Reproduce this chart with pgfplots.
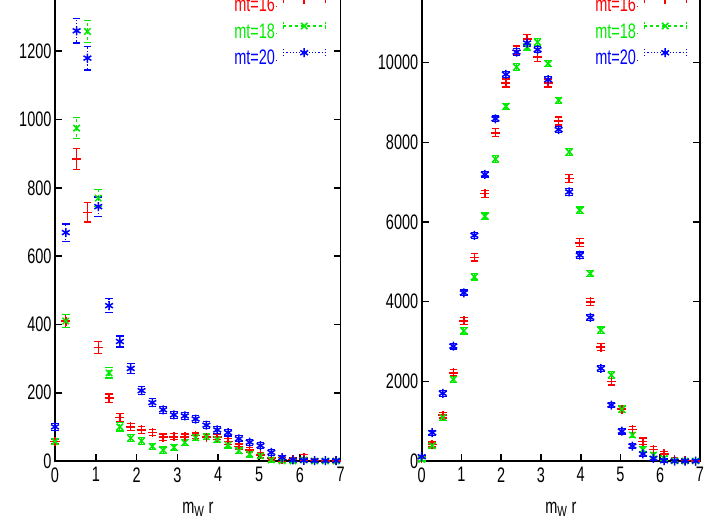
\documentclass[border=0pt]{standalone}
\usepackage{pgfplots}
\pgfplotsset{compat=1.18}
\usepackage{pgfplotstable}
\usepackage{fontspec}
\setmainfont{Liberation Sans}[FakeStretch=0.69]
\definecolor{gpred}{RGB}{255,0,0}
\definecolor{gpgreen}{RGB}{0,235,0}
\definecolor{gpblue}{RGB}{0,0,255}

% left panel
\pgfplotstableread{
x y e
0 57 5
0.265 410 20
0.53 885 31
0.795 728 28
1.06 332 18
1.325 184 12
1.59 128 12
1.855 100 10
2.12 91 10
2.385 84 9
2.65 70 9
2.915 71 9
3.18 71 8
3.445 74 8
3.71 70 8
3.975 70 8
4.24 57 8
4.505 42 8
4.77 32 7
5.035 18 8
5.3 9 6
5.565 4 6
5.83 4 6
6.095 10 8
6.36 2 5
6.625 0 3
6.89 0 3
}\LR
\pgfplotstableread{
x y e
0 57 8
0.265 410 20
0.53 975 31
0.795 1258 33
1.06 770 25
1.325 258 15
1.59 100 12
1.855 67 10
2.12 59 10
2.385 43 9
2.65 32 9
2.915 40 9
3.18 54 9
3.445 68 9
3.71 71 9
3.975 63 9
4.24 47 9
4.505 30 8
4.77 20 8
5.035 15 8
5.3 3 6
5.565 0 5
5.83 0 5
6.095 3 5
6.36 0 3
6.625 0 3
6.89 0 3
}\LG
\pgfplotstableread{
x y e
0 100 10
0.265 669 25
0.53 1260 36
0.795 1180 35
1.06 745 28
1.325 455 20
1.59 350 16
1.855 271 14
2.12 206 12
2.385 171 11
2.65 150 10
2.915 135 10
3.18 132 10
3.445 123 10
3.71 105 10
3.975 91 10
4.24 83 10
4.505 65 9
4.77 55 9
5.035 45 9
5.3 25 8
5.565 10 6
5.83 3 5
6.095 2 4
6.36 1 3
6.625 1 3
6.89 1 3
}\LB
% right panel
\pgfplotstableread{
x y e
0 60 40
0.265 415 60
0.53 1150 70
0.795 2215 80
1.06 3520 90
1.325 5110 90
1.59 6710 90
1.855 8240 100
2.12 9490 100
2.385 10310 110
2.65 10600 110
2.915 10140 110
3.18 9490 100
3.445 8535 100
3.71 7090 100
3.975 5476 100
4.24 3996 90
4.505 2860 90
4.77 1990 80
5.035 1300 80
5.3 790 80
5.565 495 80
5.83 293 70
6.095 176 70
6.36 42 50
6.625 10 30
6.89 0 20
}\RR
\pgfplotstableread{
x y e
0 40 40
0.265 385 60
0.53 1096 70
0.795 2049 80
1.06 3268 80
1.325 4623 80
1.59 6145 80
1.855 7580 80
2.12 8904 80
2.385 9890 80
2.65 10392 90
2.915 10517 90
3.18 9975 80
3.445 9054 80
3.71 7758 80
3.975 6295 80
4.24 4708 80
4.505 3286 80
4.77 2157 80
5.035 1300 80
5.3 652 70
5.565 285 70
5.83 150 60
6.095 67 50
6.36 5 30
6.625 0 20
6.89 0 20
}\RG
\pgfplotstableread{
x y e
0 108 40
0.265 710 60
0.53 1698 70
0.795 2884 70
1.06 4221 70
1.325 5665 70
1.59 7198 70
1.855 8590 70
2.12 9707 70
2.385 10266 80
2.65 10492 80
2.915 10326 80
3.18 9573 80
3.445 8320 80
3.71 6755 80
3.975 5167 80
4.24 3604 80
4.505 2325 70
4.77 1405 70
5.035 748 70
5.3 376 60
5.565 176 60
5.83 67 50
6.095 8 40
6.36 0 30
6.625 0 20
6.89 0 20
}\RB

\pgfplotsset{
  gpaxis/.style={
    scale only axis, enlargelimits=false,
    xmin=0, xmax=7, ymin=0, xtick={0,...,7},
    axis line style={line width=1.6bp},
    tick style={line width=1.6bp, black},
    major tick length=7bp, tick align=inside,
    clip=false, scaled y ticks=false,
    font=\fontsize{21bp}{25bp}\selectfont,
    xticklabel style={yshift=-3bp},
    /pgf/number format/assume math mode=true,
    /pgf/number format/1000 sep={},
    every axis x label/.style={at={(axis description cs:0.5,0)}, anchor=base, yshift=-52bp},
    xlabel={m\textsubscript{W} r},
    legend cell align=right,
    legend plot pos=right,
    legend style={draw=none, fill=none, inner sep=0pt, row sep=5bp,
      nodes={inner sep=1bp, text height=14.5bp, text depth=4bp},
      at={(#1,0.975)}, anchor=north east},
  },
  gpleg/.style n args={3}{legend image code/.code={
    \path (0bp,0bp) -- (1bp,0bp);
    \draw[#1, line width=1.2bp, #3] (7bp,7bp) -- (49bp,7bp)
       (7bp,3.5bp) -- (7bp,10.5bp) (49bp,3.5bp) -- (49bp,10.5bp);
    \begin{scope}[shift={(28bp,7bp)}, #1, line width=1.5bp, solid]
      \pgfsetplotmarksize{4.5bp}\pgfuseplotmark{#2}
    \end{scope}
  }},
  gpser/.style n args={3}{only marks, color=#1, mark=#2, mark size=4.5bp,
    mark options={solid, line width=1.5bp, #1},
    gpleg={#1}{#2}{#3},
    error bars/.cd, y dir=both, y explicit,
    error bar style={line width=1.2bp, #1, #3},
    error mark options={rotate=90, mark size=3.8bp, line width=1.2bp, #1, solid}},
}

\begin{document}
\begin{tikzpicture}
\begin{axis}[gpaxis=0.9486, at={(55bp,59bp)}, anchor=south west,
  width=285.7bp, height=478bp, ymax=1400, ytick={0,200,...,1200}]
\addplot[gpser={gpred}{+}{solid}] table[x=x, y=y, y error=e] {\LR};
\addlegendentry{\textcolor{gpred}{mt=16}}
\addplot[gpser={gpgreen}{x}{dashed}] table[x=x, y=y, y error=e] {\LG};
\addlegendentry{\textcolor{gpgreen}{mt=18}}
\addplot[gpser={gpblue}{asterisk}{dotted}] table[x=x, y=y, y error=e] {\LB};
\addlegendentry{\textcolor{gpblue}{mt=20}}
\end{axis}
\begin{axis}[gpaxis=0.9533, at={(421.7bp,59bp)}, anchor=south west,
  width=278.3bp, height=478bp, ymax=12000, ytick={0,2000,...,10000}]
\addplot[gpser={gpred}{+}{solid}] table[x=x, y=y, y error=e] {\RR};
\addlegendentry{\textcolor{gpred}{mt=16}}
\addplot[gpser={gpgreen}{x}{dashed}] table[x=x, y=y, y error=e] {\RG};
\addlegendentry{\textcolor{gpgreen}{mt=18}}
\addplot[gpser={gpblue}{asterisk}{dotted}] table[x=x, y=y, y error=e] {\RB};
\addlegendentry{\textcolor{gpblue}{mt=20}}
\end{axis}
\pgfresetboundingbox
\path[use as bounding box] (0bp,0bp) rectangle (720bp,520bp);
\end{tikzpicture}
\end{document}
